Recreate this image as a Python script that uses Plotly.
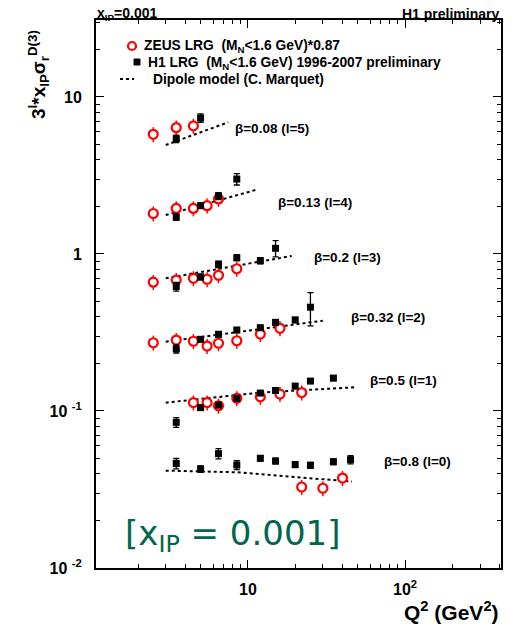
import numpy as np
import plotly.graph_objects as go

# ---------------- data ----------------
beta_labels = ["β=0.08 (l=5)", "β=0.13 (l=4)", "β=0.2 (l=3)",
               "β=0.32 (l=2)", "β=0.5 (l=1)", "β=0.8 (l=0)"]

# H1 LRG (MN<1.6 GeV) 1996-2007 preliminary
h1_q2_b008 = [3.5, 5]
h1_val_b008 = [5.42, 7.35]
h1_err_b008 = [0.30, 0.45]
h1_q2_b013 = [3.5, 5, 6.5, 8.5]
h1_val_b013 = [1.72, 2.03, 2.34, 3.0]
h1_err_b013 = [0.08, 0.08, 0.12, 0.25]
h1_q2_b020 = [3.5, 5, 6.5, 8.5, 12, 15]
h1_val_b020 = [0.620, 0.714, 0.859, 0.946, 0.906, 1.087]
h1_err_b020 = [0.04, 0.03, 0.04, 0.04, 0.04, 0.13]
h1_q2_b032 = [3.5, 5, 6.5, 8.5, 12, 15, 20, 25]
h1_val_b032 = [0.249, 0.286, 0.308, 0.328, 0.339, 0.367, 0.380, 0.458]
h1_err_b032 = [0.015, 0.01, 0.012, 0.012, 0.012, 0.015, 0.015, 0.11]
h1_q2_b050 = [3.5, 5, 6.5, 8.5, 12, 15, 20, 25, 35]
h1_val_b050 = [0.0847, 0.105, 0.109, 0.1205, 0.130, 0.135, 0.144, 0.155, 0.162]
h1_err_b050 = [0.006, 0.004, 0.004, 0.004, 0.004, 0.004, 0.005, 0.005, 0.006]
h1_q2_b080 = [3.5, 5, 6.5, 8.5, 12, 15, 20, 25, 35, 45]
h1_val_b080 = [0.0463, 0.0427, 0.0535, 0.0453, 0.050, 0.048, 0.0456, 0.0451, 0.0475, 0.049]
h1_err_b080 = [0.0035, 0.002, 0.004, 0.003, 0.002, 0.002, 0.002, 0.002, 0.002, 0.003]

# ZEUS LRG (MN<1.6 GeV)*0.87
zeus_q2_b008 = [2.5, 3.5, 4.5]
zeus_val_b008 = [5.78, 6.37, 6.54]
zeus_q2_b013 = [2.5, 3.5, 4.5, 5.5, 6.5]
zeus_val_b013 = [1.81, 1.95, 1.95, 2.03, 2.24]
zeus_q2_b020 = [2.5, 3.5, 4.5, 5.5, 6.5, 8.5]
zeus_val_b020 = [0.661, 0.682, 0.700, 0.690, 0.731, 0.805]
zeus_q2_b032 = [2.5, 3.5, 4.5, 5.5, 6.5, 8.5, 12, 16]
zeus_val_b032 = [0.272, 0.283, 0.278, 0.259, 0.270, 0.280, 0.309, 0.336]
zeus_q2_b050 = [4.5, 5.5, 6.5, 8.5, 12, 16, 22]
zeus_val_b050 = [0.113, 0.113, 0.108, 0.1205, 0.123, 0.128, 0.131]
zeus_q2_b080 = [22, 30, 40]
zeus_val_b080 = [0.0328, 0.0322, 0.0374]

# Dipole model (C. Marquet)
dip_q2_b008 = [3, 7.5]
dip_val_b008 = [4.94, 6.90]
dip_q2_b013 = [3, 11.6]
dip_val_b013 = [1.77, 2.58]
dip_q2_b020 = [3, 19]
dip_val_b020 = [0.70, 0.971]
dip_q2_b032 = [3, 30]
dip_val_b032 = [0.276, 0.376]
dip_q2_b050 = [3, 12, 48]
dip_val_b050 = [0.113, 0.131, 0.1416]
dip_q2_b080 = [3, 8.5, 46]
dip_val_b080 = [0.0417, 0.0407, 0.0355]

x_ticks = [10, 100]
x_ticktext = ["10", "10<sup>2</sup>"]
y_ticks = [0.01, 0.1, 1, 10]
y_ticktext = ["10 <sup>-2</sup>", "10 <sup>-1</sup>", "1", "10"]

groups = [
    (h1_q2_b008, h1_val_b008, h1_err_b008, zeus_q2_b008, zeus_val_b008, dip_q2_b008, dip_val_b008),
    (h1_q2_b013, h1_val_b013, h1_err_b013, zeus_q2_b013, zeus_val_b013, dip_q2_b013, dip_val_b013),
    (h1_q2_b020, h1_val_b020, h1_err_b020, zeus_q2_b020, zeus_val_b020, dip_q2_b020, dip_val_b020),
    (h1_q2_b032, h1_val_b032, h1_err_b032, zeus_q2_b032, zeus_val_b032, dip_q2_b032, dip_val_b032),
    (h1_q2_b050, h1_val_b050, h1_err_b050, zeus_q2_b050, zeus_val_b050, dip_q2_b050, dip_val_b050),
    (h1_q2_b080, h1_val_b080, h1_err_b080, zeus_q2_b080, zeus_val_b080, dip_q2_b080, dip_val_b080),
]

# ---------------- layout geometry ----------------
W, H = 515, 630
ML, MR, MT, MB = 96, 14, 20, 62
PW, PH = W - ML - MR, H - MT - MB


def pxx(px):
    return (px - ML) / PW


def pxy(py):
    return (H - MB - py) / PH


BOLD = "Liberation Sans"

fig = go.Figure()

for i, (hq, hv, he, zq, zv, dq, dv) in enumerate(groups):
    fig.add_trace(go.Scatter(
        x=dq, y=dv, mode="lines", name="Dipole model (C. Marquet)",
        line=dict(color="black", width=2, dash="dot"), showlegend=False))
    fig.add_trace(go.Scatter(
        x=zq, y=zv, mode="markers", name="ZEUS LRG",
        marker=dict(symbol="circle", size=9, color="white",
                    line=dict(color="#ff0000", width=2.2)),
        error_y=dict(type="percent", value=11, color="#ff0000", thickness=1.5, width=0),
        showlegend=False))
    fig.add_trace(go.Scatter(
        x=hq, y=hv, mode="markers", name="H1 LRG",
        marker=dict(symbol="square", size=7, color="black"),
        error_y=dict(type="data", array=he, color="black", thickness=1.3, width=3),
        showlegend=False))

annotations = []
label_px = [(233, 129), (276, 203), (312, 257), (349, 317), (368, 380), (382, 461)]
for lab, (px, py) in zip(beta_labels, label_px):
    annotations.append(dict(text=lab, xref="paper", yref="paper", x=pxx(px), y=pxy(py),
                            xanchor="left", yanchor="middle", showarrow=False,
                            font=dict(family=BOLD, size=13.5, color="black", weight="bold")))

# legend (drawn manually to match the compact ROOT legend)
leg_rows = [
    (143, 46, "ZEUS LRG\u00a0 (M<sub>N</sub>&lt;1.6 GeV)*0.87"),
    (147, 63, "H1 LRG\u00a0 (M<sub>N</sub>&lt;1.6 GeV) 1996-2007 preliminary"),
    (152, 80, "Dipole model (C. Marquet)"),
]
for px, py, t in leg_rows:
    annotations.append(dict(text=t, xref="paper", yref="paper", x=pxx(px), y=pxy(py),
                            xanchor="left", yanchor="middle", showarrow=False, borderpad=0,
                            font=dict(family=BOLD, size=13.8, color="black", weight="bold")))

shapes = [
    dict(type="circle", xref="paper", yref="paper", xsizemode="pixel", ysizemode="pixel",
         xanchor=pxx(132), yanchor=pxy(46), x0=-4, x1=4, y0=-4, y1=4,
         line=dict(color="#ff0000", width=2.2), fillcolor="white"),
    dict(type="rect", xref="paper", yref="paper", xsizemode="pixel", ysizemode="pixel",
         xanchor=pxx(137), yanchor=pxy(62), x0=-3, x1=3, y0=-3, y1=3,
         line=dict(color="black", width=1), fillcolor="black"),
    dict(type="line", xref="paper", yref="paper", x0=pxx(120), x1=pxx(134),
         y0=pxy(79), y1=pxy(79), line=dict(color="black", width=2, dash="dot")),
]

# titles
annotations += [
    dict(text="x<sub>IP</sub>=0.001", xref="paper", yref="paper", x=pxx(95), y=pxy(14),
         xanchor="left", yanchor="middle", showarrow=False,
         font=dict(family=BOLD, size=14, color="black", weight="bold")),
    dict(text="H1 preliminary", xref="paper", yref="paper", x=pxx(501), y=pxy(14),
         xanchor="right", yanchor="middle", showarrow=False,
         font=dict(family=BOLD, size=14, color="black", weight="bold")),
    dict(text="3<sup>l</sup>*x<sub>IP</sub>σ<sub>r</sub><sup>D(3)</sup>", xref="paper", yref="paper",
         x=pxx(38), y=pxy(75), xanchor="center", yanchor="middle", textangle=-90, showarrow=False,
         font=dict(family=BOLD, size=19, color="black", weight="bold")),
    dict(text="Q<sup>2</sup> (GeV<sup>2</sup>)", xref="paper", yref="paper", x=pxx(501), y=pxy(611),
         xanchor="right", yanchor="middle", showarrow=False,
         font=dict(family=BOLD, size=21, color="black", weight="bold")),
    dict(text="[x<sub>IP</sub> = 0.001]", xref="paper", yref="paper", x=pxx(123), y=pxy(535),
         xanchor="left", yanchor="middle", showarrow=False,
         font=dict(family="DejaVu Sans", size=34, color="#00664f")),
]

x_minor = [m * 10 ** e for e in range(0, 3) for m in range(2, 10)]
y_minor = [m * 10.0 ** e for e in range(-2, 2) for m in range(2, 10)]

axis_common = dict(showgrid=False, zeroline=False, showline=True, linecolor="black", linewidth=2,
                   mirror="allticks", ticks="inside", ticklen=8, tickwidth=1.3, tickcolor="black",
                   tickmode="array",
                   tickfont=dict(family=BOLD, size=16, color="black", weight="bold"))

fig.update_xaxes(type="log", range=[np.log10(1.08), np.log10(408)],
                 tickvals=x_ticks, ticktext=x_ticktext, ticklabelstandoff=6,
                 minor=dict(ticks="inside", ticklen=4, tickvals=x_minor, tickcolor="black",
                            tickwidth=1, showgrid=False),
                 **axis_common)
fig.update_yaxes(type="log", range=[-2, 1.49],
                 tickvals=y_ticks, ticktext=y_ticktext, ticklabelstandoff=9,
                 minor=dict(ticks="inside", ticklen=4, tickvals=y_minor, tickcolor="black",
                            tickwidth=1, showgrid=False),
                 **axis_common)

fig.update_layout(width=W, height=H, margin=dict(l=ML, r=MR, t=MT, b=MB),
                  paper_bgcolor="white", plot_bgcolor="white", showlegend=False,
                  annotations=annotations, shapes=shapes)

fig.write_html("out.html")
